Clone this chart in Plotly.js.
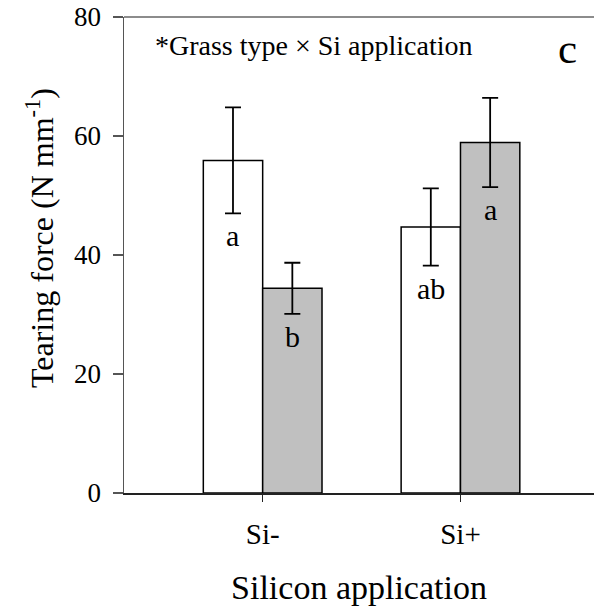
<!DOCTYPE html>
<html>
<head>
<meta charset="utf-8">
<script src="https://cdn.plot.ly/plotly-3.0.1.min.js"></script>
<style>
  html, body { margin: 0; padding: 0; background: #fff; }
  #chart { width: 594px; height: 612px; }
</style>
</head>
<body>
<div id="chart"></div>
<script>
// Tearing force by silicon application, two grass types
const categories = ['Si-', 'Si+'];
const whiteMeans = [55.9, 44.7];
const whiteErr = [8.9, 6.5];
const grayMeans = [34.4, 58.9];
const grayErr = [4.3, 7.5];
const whiteLetters = ['a', 'ab'];
const grayLetters = ['b', 'a'];
const yTicks = [0, 20, 40, 60, 80];

const FONT = 'Liberation Serif, Times New Roman, serif';
const BAR_W = 0.3;
const PLOT_L = 124, PLOT_T = 17, PLOT_W = 470, PLOT_H = 476;

const errStyle = (arr) => ({
  type: 'data', array: arr, visible: true,
  color: '#000', thickness: 1.8, width: 8
});

const traces = [
  {
    type: 'bar', x: categories, y: whiteMeans,
    width: BAR_W, offset: -BAR_W,
    marker: { color: '#ffffff', line: { color: '#000', width: 1.5 } },
    error_y: errStyle(whiteErr), showlegend: false, hoverinfo: 'skip'
  },
  {
    type: 'bar', x: categories, y: grayMeans,
    width: BAR_W, offset: 0,
    marker: { color: '#c0c0c0', line: { color: '#000', width: 1.5 } },
    error_y: errStyle(grayErr), showlegend: false, hoverinfo: 'skip'
  }
];

// significance letters under each error bar
const letterAnn = [];
categories.forEach((c, i) => {
  letterAnn.push({
    x: i - BAR_W / 2, y: whiteMeans[i] - whiteErr[i], xref: 'x', yref: 'y',
    text: whiteLetters[i], showarrow: false, yanchor: 'top', yshift: -4,
    font: { family: FONT, size: 30, color: '#000' }
  });
  letterAnn.push({
    x: i + BAR_W / 2, y: grayMeans[i] - grayErr[i], xref: 'x', yref: 'y',
    text: grayLetters[i], showarrow: false, yanchor: 'top', yshift: -4,
    font: { family: FONT, size: 30, color: '#000' }
  });
});

// pixel helpers for paper-positioned text
const px = (x) => (x - PLOT_L) / PLOT_W;
const py = (y) => 1 - (y - PLOT_T) / PLOT_H;

const layout = {
  width: 594, height: 612,
  margin: { l: PLOT_L, r: 594 - PLOT_L - PLOT_W, t: PLOT_T, b: 612 - PLOT_T - PLOT_H },
  paper_bgcolor: '#fff', plot_bgcolor: '#fff',
  font: { family: FONT, color: '#000' },
  barmode: 'overlay',
  showlegend: false,
  xaxis: {
    type: 'category', range: [-0.701, 1.675],
    showline: true, linecolor: '#222', linewidth: 2,
    ticks: 'outside', ticklen: 7, tickwidth: 1.5, tickcolor: '#222',
    tickfont: { family: FONT, size: 29, color: '#000' },
    ticklabelstandoff: 7,
    showgrid: false, zeroline: false,
    title: { text: 'Silicon application', font: { family: FONT, size: 34, color: '#000' }, standoff: 26 }
  },
  yaxis: {
    range: [0, 80], tickvals: yTicks,
    showline: true, linecolor: '#555', linewidth: 1.5,
    ticks: 'outside', ticklen: 10, tickwidth: 1.5, tickcolor: '#555',
    tickfont: { family: FONT, size: 27, color: '#000' },
    ticklabelstandoff: 6,
    showgrid: false, zeroline: false
  },
  shapes: [
    { type: 'line', xref: 'paper', yref: 'paper', x0: 0, x1: 1, y0: 1, y1: 1,
      line: { color: '#666', width: 1.5 } }
  ],
  annotations: [
    { xref: 'paper', yref: 'paper', x: px(40), y: py(238),
      xanchor: 'center', yanchor: 'middle', textangle: -90, showarrow: false,
      text: 'Tearing force (N mm<sup>-1</sup>)',
      font: { family: FONT, size: 32, color: '#000' } },
    { xref: 'paper', yref: 'paper', x: px(153), y: py(28),
      xanchor: 'left', yanchor: 'top', showarrow: false,
      text: '*Grass type × Si application',
      font: { family: FONT, size: 28, color: '#000' } },
    { xref: 'paper', yref: 'paper', x: px(556), y: py(23),
      xanchor: 'left', yanchor: 'top', showarrow: false,
      text: 'c',
      font: { family: FONT, size: 43, color: '#000' } }
  ].concat(letterAnn)
};

Plotly.newPlot('chart', traces, layout, { staticPlot: true, displayModeBar: false });
</script>
</body>
</html>
